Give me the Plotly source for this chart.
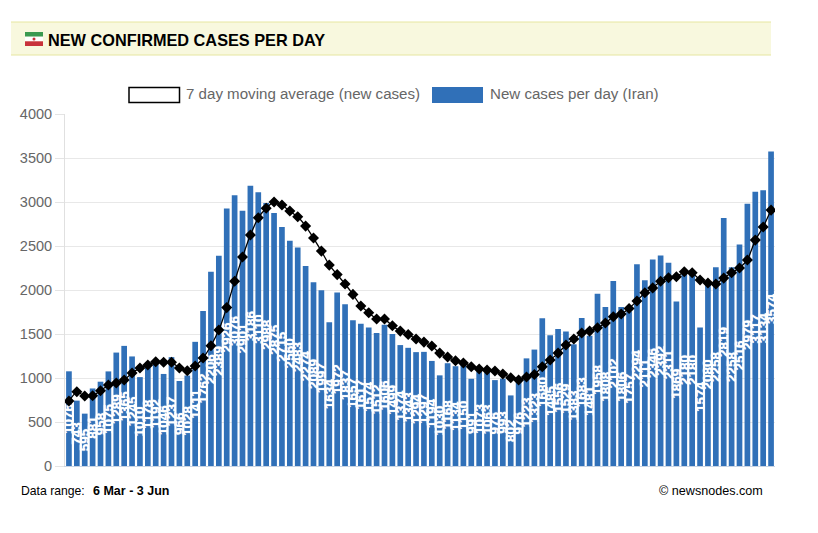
import plotly.graph_objects as go
import pandas as pd

dates = pd.date_range("2020-03-06", "2020-06-03").strftime("%d %b").tolist()
new_cases = [1076,743,595,881,958,1075,1289,1365,1245,1010,1178,1192,1046,1237,966,1028,1411,1762,2206,2389,
 2926,3076,2901,3186,3110,2988,2875,2715,2560,2483,2274,2089,1997,1634,1972,1837,1657,1617,1574,1512,
 1606,1499,1374,1343,1294,1297,1194,1030,1168,1134,1150,991,1073,1063,976,993,802,976,1223,1323,
 1680,1485,1556,1529,1383,1683,1481,1958,1808,2102,1806,1757,2294,2111,2346,2392,2311,1869,2180,2180,
 1574,2080,2258,2819,2258,2516,2979,3117,3134,3574]
moving_avg = [738,844,795,799,855,920,943,977,1056,1113,1147,1185,1180,1180,1113,1083,1136,1227,1367,1545,
 1800,2100,2374,2624,2820,2930,3000,2965,2897,2832,2726,2590,2442,2283,2175,2068,1950,1818,1742,1670,
 1670,1594,1533,1495,1443,1408,1363,1283,1238,1196,1170,1128,1102,1090,1079,1045,1003,977,1011,1040,
 1128,1204,1283,1375,1443,1511,1533,1571,1625,1696,1727,1790,1876,1969,2024,2100,2139,2150,2207,2196,
 2113,2079,2068,2135,2196,2249,2340,2567,2715,2908]
y_ticks = [0,500,1000,1500,2000,2500,3000,3500,4000]
title = "NEW CONFIRMED CASES PER DAY"
legend_line = "7 day moving average (new cases)"
legend_bar = "New cases per day (Iran)"

W, H = 818, 533
L, R, T, B = 65, 775, 114, 466
FONT = "Liberation Sans, Arial, sans-serif"
BLUE = "#3070B8"

def px(x): return (x - L) / (R - L)
def py(y): return (B - y) / (B - T)

def rect(x0, y0, x1, y1, fill, line=None, w=0):
    return dict(type="rect", xref="paper", yref="paper", x0=px(x0), x1=px(x1), y0=py(y1), y1=py(y0),
                fillcolor=fill, line=dict(color=line or fill, width=w), layer="above")

def label(x, y, text, size, color, anchor="left"):
    return dict(xref="paper", yref="paper", x=px(x), y=py(y), text=text, showarrow=False, xanchor=anchor,
                yanchor="middle", font=dict(family=FONT, size=size, color=color),
                borderpad=0, borderwidth=0)

fig = go.Figure()
fig.add_bar(x=dates, y=new_cases, marker=dict(color=BLUE, line_width=0), text=[f"<b>{v}</b>" for v in new_cases],
            textposition="inside", insidetextanchor="middle", textangle=-90, constraintext="none",
            cliponaxis=False, textfont=dict(family=FONT, size=13.5, color="white", shadow="0 0 1px #ffffff"),
            hoverinfo="x+y", name=legend_bar)
fig.add_scatter(x=dates, y=moving_avg, mode="lines+markers", line=dict(color="#000", width=1.3, shape="spline", smoothing=0.4),
                marker=dict(symbol="diamond", size=8.5, color="#000"), name=legend_line)

shapes = [
    rect(11, 22, 771, 55, "#F8F8DE"),
    dict(type="line", xref="paper", yref="paper", x0=px(11), x1=px(771), y0=py(22), y1=py(22), line=dict(color="#E6E6A0", width=1)),
    dict(type="line", xref="paper", yref="paper", x0=px(11), x1=px(771), y0=py(55), y1=py(55), line=dict(color="#E6E6A0", width=1)),
    rect(25, 32, 43, 36.7, "#3A9A50"), rect(25, 36.7, 43, 41.3, "#FFFFFF"), rect(25, 41.3, 43, 46, "#C8323A"),
    dict(type="circle", xref="paper", yref="paper", x0=px(32.5), x1=px(35.5), y0=py(40.5), y1=py(37.5),
         fillcolor="#C8323A", line=dict(width=0), layer="above"),
    rect(129, 87.5, 179.5, 102.5, "#FFFFFF", "#000000", 1.5),
    rect(432, 87, 483, 103, BLUE),
]
annotations = [
    label(48, 39.5, f"<b>{title}</b>", 16.3, "#000"),
    label(186, 94, legend_line, 15.1, "#666"),
    label(490, 94, legend_bar, 15.1, "#666"),
    label(21, 490.5, "Data range:", 12.2, "#000"),
    label(93, 490.5, "<b>6 Mar - 3 Jun</b>", 12.5, "#000"),
    label(763, 490.5, "© newsnodes.com", 12.6, "#000", "right"),
]

fig.update_layout(
    width=W, height=H, autosize=False, showlegend=False, paper_bgcolor="white", plot_bgcolor="white",
    margin=dict(l=L, r=W - R, t=T, b=H - B, pad=0), bargap=0.28, shapes=shapes, annotations=annotations,
    font=dict(family=FONT),
)
fig.update_xaxes(type="category", range=[-0.5, len(dates) - 0.5], showticklabels=False, ticks="", showgrid=False,
                 showline=True, linecolor="#C8D4E4", linewidth=1, zeroline=False)
fig.update_yaxes(range=[0, 4000], tickvals=y_ticks, ticks="outside", ticklen=9, tickcolor="#E4E4E4",
                 gridcolor="#E8E8E8", gridwidth=1, showline=True, linecolor="#E0E0E0", linewidth=1, zeroline=False,
                 tickfont=dict(family=FONT, size=14.5, color="#666"))

fig.write_html("out.html", config=dict(displayModeBar=False), post_script="document.body.style.margin='0';")
